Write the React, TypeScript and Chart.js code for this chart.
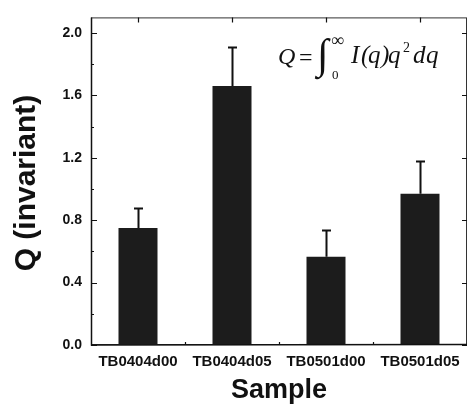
import React, { useEffect, useRef } from "react";
import { Chart, registerables } from "chart.js";

Chart.register(...registerables);

const categories = ["TB0404d00", "TB0404d05", "TB0501d00", "TB0501d05"];
const qValues = [0.75, 1.66, 0.565, 0.97];
const qErrors = [0.13, 0.25, 0.17, 0.21];
const yTicks = [0, 0.4, 0.8, 1.2, 1.6, 2.0];
const yMinorTicks = [0.2, 0.6, 1.0, 1.4, 1.8];
const yMin = 0;
const yMax = 2.1;
const yTitle = "Q (invariant)";
const xTitle = "Sample";

const SANS = '"Liberation Sans", Arial, sans-serif';
const SERIF = '"Liberation Serif", "Times New Roman", serif';

const decorPlugin = {
  id: "decor",
  afterDatasetsDraw(chart: any) {
    const { ctx, chartArea: a, scales } = chart;
    const x = scales.x;
    const y = scales.y;
    ctx.save();
    // error bars (upper only)
    ctx.strokeStyle = "#111";
    ctx.lineWidth = 2;
    qValues.forEach((v, i) => {
      const px = Math.round(x.getPixelForValue(i)) + 0.5;
      const y0 = y.getPixelForValue(v);
      const y1 = Math.round(y.getPixelForValue(v + qErrors[i])) + 0.5;
      ctx.beginPath();
      ctx.moveTo(px, y0);
      ctx.lineTo(px, y1);
      ctx.moveTo(px - 4.5, y1);
      ctx.lineTo(px + 4.5, y1);
      ctx.stroke();
    });
    // frame
    ctx.strokeStyle = "#333";
    ctx.lineWidth = 1;
    ctx.strokeRect(a.left + 0.5, a.top + 0.5, a.right - a.left - 1, a.bottom - a.top - 1);
    ctx.strokeStyle = "#111";
    ctx.lineWidth = 1.5;
    ctx.beginPath();
    ctx.moveTo(a.left + 0.5, a.top);
    ctx.lineTo(a.left + 0.5, a.bottom);
    ctx.lineTo(a.right, a.bottom - 0.5);
    ctx.stroke();
    // y ticks
    ctx.lineWidth = 1.2;
    ctx.beginPath();
    yTicks.forEach((v) => {
      const py = Math.round(y.getPixelForValue(v)) + 0.5;
      ctx.moveTo(a.left, py);
      ctx.lineTo(a.left + 6, py);
      ctx.moveTo(a.right, py);
      ctx.lineTo(a.right - 5, py);
    });
    yMinorTicks.forEach((v) => {
      const py = Math.round(y.getPixelForValue(v)) + 0.5;
      ctx.moveTo(a.left, py);
      ctx.lineTo(a.left + 3, py);
    });
    // top ticks at category centres, bottom minor ticks at boundaries
    categories.forEach((_, i) => {
      const px = Math.round(x.getPixelForValue(i)) + 0.5;
      ctx.moveTo(px, a.top);
      ctx.lineTo(px, a.top + 5);
      if (i > 0) {
        const pb = Math.round(x.getPixelForValue(i - 0.5)) + 0.5;
        ctx.moveTo(pb, a.bottom);
        ctx.lineTo(pb, a.bottom - 3);
      }
    });
    ctx.stroke();

    // y title
    ctx.fillStyle = "#111";
    ctx.save();
    ctx.translate(27, 183);
    ctx.rotate(-Math.PI / 2);
    ctx.textAlign = "center";
    ctx.textBaseline = "middle";
    ctx.font = `bold 30px ${SANS}`;
    ctx.fillText(yTitle, 0, 0);
    ctx.restore();

    // formula  Q = ∫0^∞ I(q) q² dq
    ctx.textBaseline = "alphabetic";
    ctx.textAlign = "left";
    const it = `italic 25px ${SERIF}`;
    const put = (t: string, px: number, py: number, f: string) => {
      ctx.font = f;
      ctx.fillText(t, px, py);
    };
    put("Q", 278, 64, `italic 24px ${SERIF}`);
    put("=", 299, 65, `24px ${SERIF}`);
    put("\u222B", 317, 68, `42px ${SERIF}`);
    put("\u221E", 331, 46, `18px ${SERIF}`);
    put("0", 332, 79, `13px ${SERIF}`);
    put("I", 351, 63, it);
    put("(", 361, 63, it);
    put("q", 368, 63, it);
    put(")", 381, 63, it);
    put("q", 388, 63, it);
    put("2", 403, 52, `14px ${SERIF}`);
    put("d", 413, 63, it);
    put("q", 426, 63, it);
    ctx.restore();
  },
};

export default function App() {
  const ref = useRef<HTMLCanvasElement | null>(null);
  useEffect(() => {
    if (!ref.current) return;
    const chart = new Chart(ref.current, {
      type: "bar",
      data: {
        labels: categories,
        datasets: [
          {
            data: qValues,
            backgroundColor: "#1c1c1c",
            borderWidth: 0,
            barPercentage: 0.415,
            categoryPercentage: 1,
          },
        ],
      },
      options: {
        responsive: false,
        animation: false,
        layout: { padding: { top: 7, right: 3, left: 0, bottom: 0 } },
        plugins: { legend: { display: false }, tooltip: { enabled: false } },
        scales: {
          x: {
            offset: true,
            grid: { display: false, drawTicks: false },
            border: { display: false },
            ticks: {
              color: "#111",
              padding: 8,
              maxRotation: 0,
              autoSkip: false,
              font: { family: SANS, size: 15, weight: "bold" },
            },
            title: {
              display: true,
              text: xTitle,
              color: "#111",
              padding: { top: 0, bottom: 3 },
              font: { family: SANS, size: 27, weight: "bold" },
            },
            afterFit(scale: any) {
              scale.height = 65;
            },
          },
          y: {
            min: yMin,
            max: yMax,
            grid: { display: false, drawTicks: false },
            border: { display: false },
            afterBuildTicks(scale: any) {
              scale.ticks = yTicks.map((v) => ({ value: v }));
            },
            ticks: {
              color: "#111",
              padding: 9,
              font: { family: SANS, size: 14, weight: "bold" },
              callback: (v: any) => Number(v).toFixed(1),
            },
            afterFit(scale: any) {
              scale.width = 91;
            },
          },
        },
      },
      plugins: [decorPlugin],
    });
    return () => chart.destroy();
  }, []);
  return (
    <div style={{ position: "absolute", left: 0, top: 0, width: 470, height: 410, background: "#fff" }}>
      <canvas ref={ref} width={470} height={410} style={{ display: "block" }} />
    </div>
  );
}
